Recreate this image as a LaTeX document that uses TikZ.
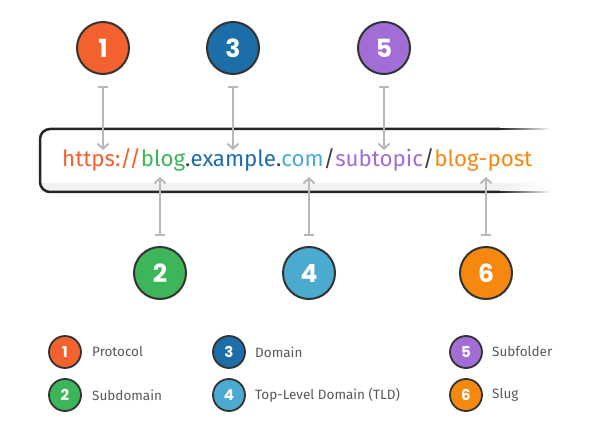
\documentclass[tikz,border=0pt]{standalone}
\usepackage{fontspec}
\setmainfont{Fira Sans}
\newfontfamily\numfont{Poppins}
\usetikzlibrary{arrows.meta}

\definecolor{cProto}{HTML}{F2622E}
\definecolor{cSub}{HTML}{3DB65A}
\definecolor{cDom}{HTML}{1C6DA8}
\definecolor{cTld}{HTML}{4BAACF}
\definecolor{cFold}{HTML}{A26ED6}
\definecolor{cSlug}{HTML}{F5890F}
\definecolor{cPointer}{HTML}{B8B8B8}

\tikzset{
  badge/.style={circle, draw=black!80, line width=2, minimum size=52, inner sep=0,
    text=white, font=\numfont\bfseries\fontsize{25}{25}\selectfont},
  smallbadge/.style={badge, minimum size=32, line width=1.8,
    font=\numfont\bfseries\fontsize{15}{15}\selectfont},
  pointer/.style={draw=cPointer, line width=2,
    {Bar[width=10,line width=2]}-{Straight Barb[length=5,width=11,line width=2]}},
  legendtext/.style={anchor=west, inner sep=0, text=black!65, font=\fontsize{13.5}{13.5}\selectfont},
  boxline/.style={draw=black!85, line width=2.5},
}

\begin{document}
\begin{tikzpicture}[x=1pt, y=-1pt]
\useasboundingbox[fill=white] (0,0) rectangle (600,441);

% caja de la url
\fill[black!5] (42,183) rectangle (500,191);
\draw[boxline, rounded corners=10] (500,129) -- (40,129) -- (40,192) -- (500,192);
\foreach \i [evaluate=\i as \op using 1-\i/20] in {0,...,19} {
  \fill[black!5, opacity=\op] (500+2.5*\i,183) rectangle (502.5+2.5*\i,191);
  \draw[boxline, draw opacity=\op] (500+2.5*\i,129) -- (502.5+2.5*\i,129);
  \draw[boxline, draw opacity=\op] (500+2.5*\i,192) -- (502.5+2.5*\i,192);
}

\node[anchor=base west, inner sep=0, font=\fontsize{22.3}{22.3}\selectfont] (url) at (62,167)
  {\textcolor{cProto}{https://}\textcolor{cSub}{blog}\textcolor{black!75}{.}\textcolor{cDom}{example}\textcolor{black!75}{.}\textcolor{cTld}{com}\textcolor{black!75}{/}\textcolor{cFold}{subtopic}\textcolor{black!75}{/}\textcolor{cSlug}{blog-post}};

% puntos de la url
\coordinate (t1) at (103,150);
\coordinate (t3) at (233,150);
\coordinate (t5) at (384,150);
\coordinate (t2) at (160,177);
\coordinate (t4) at (309,177);
\coordinate (t6) at (486,177);

% circulos grandes
\node[badge, fill=cProto] (n1) at (103,48) {1};
\node[badge, fill=cDom] (n3) at (233,48) {3};
\node[badge, fill=cFold] (n5) at (384,48) {5};
\node[badge, fill=cSub] (n2) at (160,273) {2};
\node[badge, fill=cTld] (n4) at (309,273) {4};
\node[badge, fill=cSlug] (n6) at (486,273) {6};

% flechas
\draw[pointer, shorten <=11] (n1) -- (t1);
\draw[pointer, shorten <=11] (n3) -- (t3);
\draw[pointer, shorten <=11] (n5) -- (t5);
\draw[pointer, shorten <=10] (n2) -- (t2);
\draw[pointer, shorten <=10] (n4) -- (t4);
\draw[pointer, shorten <=10] (n6) -- (t6);

% leyenda
\node[smallbadge, fill=cProto] (l1) at (65,352) {1};
\node[smallbadge, fill=cSub] (l2) at (65,395) {2};
\node[smallbadge, fill=cDom] (l3) at (229,352) {3};
\node[smallbadge, fill=cTld] (l4) at (229,395) {4};
\node[smallbadge, fill=cFold] (l5) at (466,352) {5};
\node[smallbadge, fill=cSlug] (l6) at (466,395) {6};

\node[legendtext] at (92,352) {Protocol};
\node[legendtext] at (92,395) {Subdomain};
\node[legendtext] at (255,352) {Domain};
\node[legendtext] at (255,395) {Top-Level Domain (TLD)};
\node[legendtext] at (492,352) {Subfolder};
\node[legendtext] at (492,395) {Slug};
\end{tikzpicture}
\end{document}
